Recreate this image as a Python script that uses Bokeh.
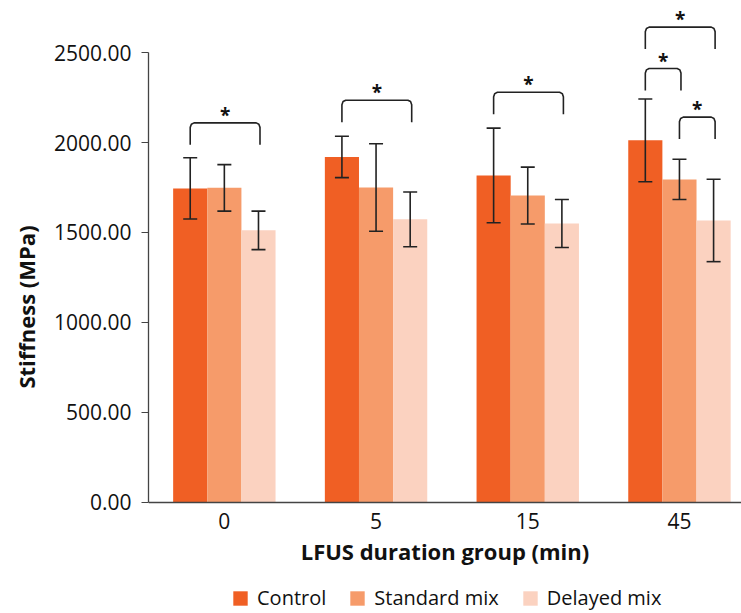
from bokeh.plotting import figure
from bokeh.models import (ColumnDataSource, Range1d, FixedTicker, NumeralTickFormatter,
                          Whisker, TeeHead, Legend, LegendItem)
from bokeh.core.properties import value
from bokeh.embed import file_html
from bokeh.resources import INLINE

# ---- data ----
groups = ["0", "5", "15", "45"]
series = ["Control", "Standard mix", "Delayed mix"]
control = [1745, 1920, 1817, 2012]
control_err = [170, 115, 263, 230]
standard = [1748, 1750, 1705, 1795]
standard_err = [129, 243, 158, 112]
delayed = [1512, 1573, 1550, 1567]
delayed_err = [107, 152, 133, 229]
y_ticks = [0, 500, 1000, 1500, 2000, 2500]

# significance brackets: group index, from series index, to series index, bracket height
sig_group = [0, 1, 2, 3, 3, 3]
sig_from = [0, 0, 0, 0, 0, 1]
sig_to = [2, 2, 2, 2, 1, 2]
sig_height = [2109, 2235, 2279, 2641, 2411, 2141]
sig_label = ["*", "*", "*", "*", "*", "*"]

colors = ["#F05F24", "#F69B6A", "#FBD2C0"]
FONT = "Open Sans"
bar_w = 0.225
offsets = [-bar_w, 0.0, bar_w]

p = figure(frame_width=593, frame_height=613, output_backend="svg", toolbar_location=None,
           x_range=Range1d(-0.5, 3.409), y_range=Range1d(-616.7, 2788.9))
p.min_border_left = 148
p.min_border_right = 0
p.min_border_top = 0
p.min_border_bottom = 0
p.outline_line_color = None
p.xgrid.visible = False
p.ygrid.visible = False

means = [control, standard, delayed]
errs = [control_err, standard_err, delayed_err]
renderers = []
for i in range(3):
    xs = [g + offsets[i] for g in range(len(groups))]
    src = ColumnDataSource(dict(x=xs, top=means[i],
                                upper=[m + e for m, e in zip(means[i], errs[i])],
                                lower=[m - e for m, e in zip(means[i], errs[i])]))
    r = p.vbar(x="x", top="top", width=bar_w, bottom=0, source=src,
               fill_color=colors[i], line_color=None)
    renderers.append(r)
    w = Whisker(base="x", upper="upper", lower="lower", source=src, level="overlay",
                line_color="#222222", line_width=1.6,
                upper_head=TeeHead(size=14, line_color="#222222", line_width=1.6),
                lower_head=TeeHead(size=14, line_color="#222222", line_width=1.6))
    p.add_layout(w)

# brackets
drop = 122
bx, by, sx, sy = [], [], [], []
for g, a, b, h in zip(sig_group, sig_from, sig_to, sig_height):
    x0 = g + offsets[a]
    x1 = g + offsets[b] + 0.01
    dx = 0.025
    dy = 25
    yb = h - drop
    bx.append([x0, x0, x0 + dx * 0.3, x0 + dx, x1 - dx, x1 - dx * 0.3, x1, x1])
    by.append([yb, h - dy, h - dy * 0.3, h, h, h - dy * 0.3, h - dy, yb])
    sx.append((x0 + x1) / 2)
    sy.append(h)
p.multi_line(bx, by, line_color="#222222", line_width=1.6)
p.text(sx, sy, text=sig_label, text_font=value(FONT), text_font_size="19px",
       text_font_style="bold", text_align="center", text_baseline="alphabetic",
       y_offset=-8, text_color="#111111")

# axes
ax = p.yaxis[0]
ax.ticker = FixedTicker(ticks=y_ticks)
ax.bounds = (0, 2500)
ax.formatter = NumeralTickFormatter(format="0.00")
ax.minor_tick_line_color = None
ax.major_tick_in = 0
ax.major_tick_out = 7
ax.major_label_standoff = 10
ax.axis_line_color = "#444444"
ax.major_tick_line_color = "#444444"
ax.axis_line_width = 1.3
ax.major_label_text_font = FONT
ax.major_label_text_font_size = "21px"
ax.major_label_text_color = "#111111"
ax.axis_label = "Stiffness (MPa)"
ax.axis_label_text_font = FONT
ax.axis_label_text_font_style = "bold"
ax.axis_label_text_font_size = "22px"
ax.axis_label_text_color = "#111111"
ax.axis_label_standoff = 10

bx_ = p.xaxis[0]
bx_.fixed_location = 0
bx_.bounds = (-0.5, 3.5)
bx_.ticker = FixedTicker(ticks=[0, 1, 2, 3])
bx_.major_label_overrides = {i: g for i, g in enumerate(groups)}
bx_.minor_tick_line_color = None
bx_.major_tick_in = 0
bx_.major_tick_out = 0
bx_.major_label_standoff = 11
bx_.axis_line_color = "#444444"
bx_.axis_line_width = 1.3
bx_.major_label_text_font = FONT
bx_.major_label_text_font_size = "21px"
bx_.major_label_text_color = "#111111"
bx_.axis_label = "LFUS duration group (min)"
bx_.axis_label_text_font = FONT
bx_.axis_label_text_font_style = "bold"
bx_.axis_label_text_font_size = "22px"
bx_.axis_label_text_color = "#111111"
bx_.axis_label_standoff = 3

legend = Legend(items=[LegendItem(label=series[i], renderers=[renderers[i]]) for i in range(3)],
                orientation="horizontal", location=(83, 2))
legend.glyph_width = 18
legend.glyph_height = 18
legend.label_standoff = 8
legend.spacing = 22
legend.label_text_font = FONT
legend.label_text_font_size = "20px"
legend.label_text_color = "#111111"
legend.border_line_color = None
legend.background_fill_alpha = 0
legend.margin = 0
legend.padding = 0
p.add_layout(legend, "center")

open("out.html", "w").write(file_html(p, INLINE))
